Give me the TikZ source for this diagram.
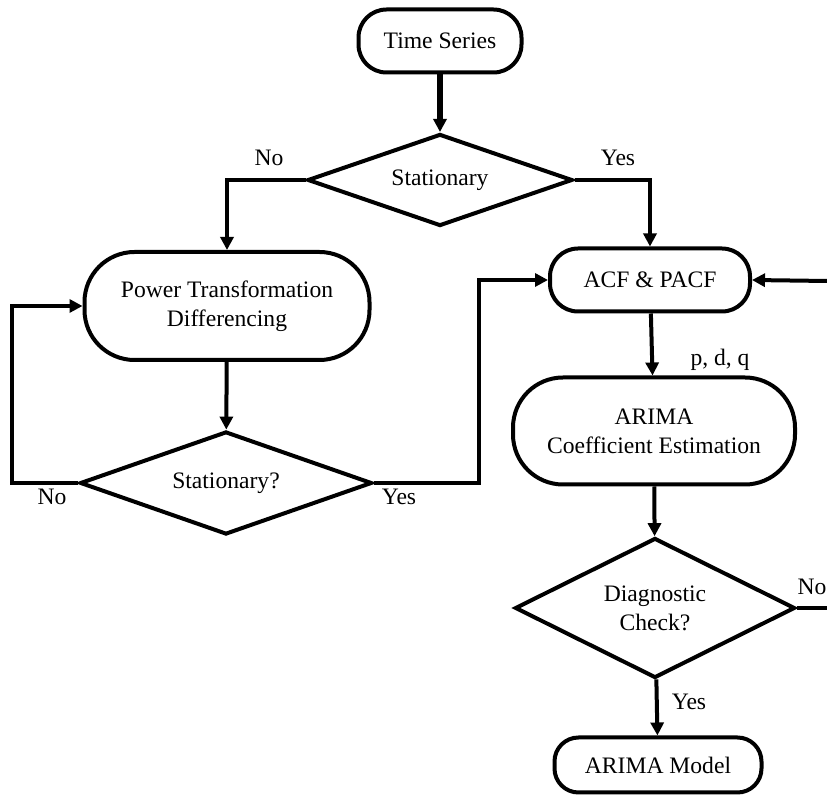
\documentclass[tikz,border=0pt]{standalone}
\usepackage{fontspec}
\setmainfont{Liberation Serif}
\usetikzlibrary{arrows.meta,shapes.geometric}
\begin{document}
\begin{tikzpicture}[x=0.5pt, y=-0.5pt,
    line width=2pt,
    every node/.style={font=\fontsize{11.8}{14.5}\selectfont},
    pill/.style={draw, rectangle, align=center, inner sep=0pt},
    decision/.style={draw, diamond, aspect=3, inner sep=0pt, align=center},
    flow/.style={-{Triangle[length=6.5pt, width=6.5pt]}}]
    \useasboundingbox (0,0) rectangle (827,796);
    \node[pill, minimum width=81.5pt, minimum height=31.5pt, rounded corners=14pt] (ts) at (440,41) {Time Series};
    \node[decision, minimum width=132.5pt, minimum height=46pt] (st1) at (440,180) {Stationary};
    \node[pill, minimum width=142.5pt, minimum height=54pt, rounded corners=25pt] (pt) at (227,306) {Power Transformation\\Differencing};
    \node[decision, minimum width=146pt, minimum height=51.5pt] (st2) at (226,483) {Stationary?};
    \node[pill, minimum width=100pt, minimum height=31.5pt, rounded corners=14pt] (acf) at (650,280) {ACF \& PACF};
    \node[pill, minimum width=141pt, minimum height=53.5pt, rounded corners=25pt] (est) at (654,431) {ARIMA\\Coefficient Estimation};
    \node[decision, minimum width=140pt, minimum height=70pt] (dc) at (655,608) {Diagnostic\\Check?};
    \node[pill, minimum width=103.5pt, minimum height=27.5pt, rounded corners=12pt] (mdl) at (658,765) {ARIMA Model};
    % labels
    \node (no1) at (269,158) {No};
    \node (yes1) at (618,158) {Yes};
    \node (no2) at (52,497) {No};
    \node (yes2) at (399,497) {Yes};
    \node (pdq) at (720,360) {p, d, q};
    \node (no3) at (812,587) {No};
    \node (yes3) at (689,702) {Yes};
    % loop ends at the right border
    \coordinate (rin) at (827,281);
    \coordinate (rout) at (827,608);
    \draw[flow, line width=2.6pt] (ts) -- (st1);
    \draw[flow] (st1.west) -| (pt.north);
    \draw[flow] (st1.east) -| (acf.north);
    \draw[flow] (pt) -- (st2);
    \draw[flow] (st2.west) -- (12,483) |- (pt.west);
    \draw[flow] (st2.east) -- (479,483) |- (acf.west);
    \draw[flow] (acf) -- (est);
    \draw[flow] (est) -- (dc);
    \draw (dc.east) -- (rout);
    \draw[flow] (rin) -- (acf.east);
    \draw[flow] (dc) -- (mdl);
\end{tikzpicture}
\end{document}
